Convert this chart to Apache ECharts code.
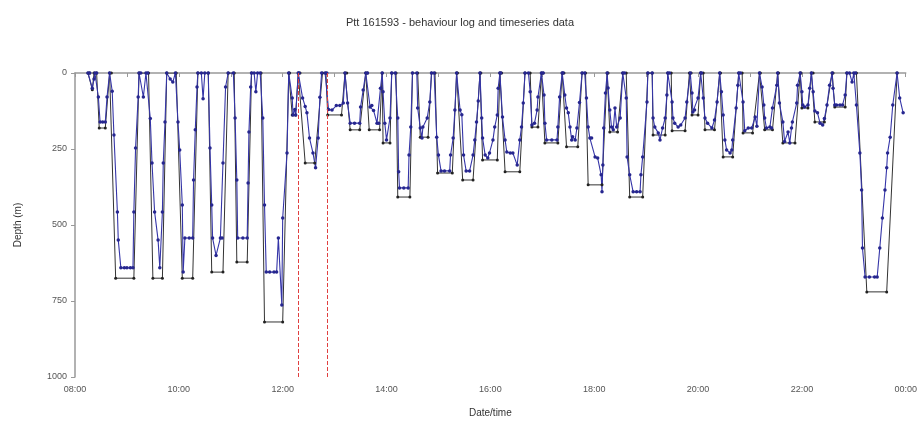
<!DOCTYPE html>
<html>
<head>
<meta charset="utf-8">
<script src="https://cdn.jsdelivr.net/npm/echarts@6/dist/echarts.min.js"></script>
<style>html,body{margin:0;padding:0;background:#fff}#c{width:920px;height:427px}</style>
</head>
<body>
<div id="c"></div>
<script>
// time values are minutes after 08:00, depths in metres
const titleText = 'Ptt 161593 - behaviour log and timeseries data';
const depthTicks = [0, 250, 500, 750, 1000];
const markerTimes = [258, 292];

const behaviourLog = [
  [15,0],[17,0],[20,55],[22,0],[25,0],[28,181],[35,181],[40,0],
  [42,0],[47,675],[68,675],[74,0],
  [85,0],[90,675],[101,675],[106,0],
  [117,0],[124,675],[136,675],[142,0],
  [154,0],[158,655],[171,655],[177,0],
  [184,0],[187,622],[199,622],[204,0],
  [215,0],[219,819],[240,819],[247,0],
  [248,0],[251,138],[255,138],[258,0],
  [260,0],[266,296],[277,296],[286,0],
  [290,0],[292,138],[308,138],[312,0],
  [314,0],[318,187],[329,187],[336,0],
  [338,0],[340,187],[352,187],[355,0],
  [356,230],[364,230],[366,0],
  [371,0],[373,408],[387,408],[390,0],
  [396,0],[399,211],[408,211],[412,0],
  [416,0],[419,329],[436,329],[441,0],
  [442,0],[448,352],[460,352],[468,0],
  [469,0],[471,286],[488,286],[491,0],
  [493,0],[497,325],[514,325],[520,0],
  [526,0],[528,178],[535,178],[539,0],
  [541,0],[543,230],[558,230],[563,0],
  [565,0],[568,243],[581,243],[586,0],
  [590,0],[593,368],[609,368],[615,0],
  [616,0],[618,194],[627,194],[633,0],
  [637,0],[641,408],[656,408],[662,0],
  [667,0],[668,204],[682,204],[685,0],
  [689,0],[690,190],[705,190],[710,0],
  [712,0],[713,138],[720,138],[723,0],
  [726,0],[728,187],[739,187],[745,0],
  [746,0],[749,276],[760,276],[767,0],
  [771,0],[772,197],[783,197],[791,0],
  [792,0],[797,187],[806,187],[812,0],
  [813,0],[818,230],[832,230],[838,0],
  [839,0],[840,115],[847,115],[851,0],
  [853,0],[855,161],[866,161],[875,0],
  [876,0],[878,112],[890,112],[892,0],
  [903,0],[915,720],[938,720],[950,0]
];

const timeseries = [
  [15,0],[17,0],[20,50],[22,20],[23,0],[25,0],[27,79],[29,161],[32,161],[35,161],[37,79],[40,0],
  [43,60],[45,204],[49,457],[50,549],[53,641],[57,641],[60,641],[64,641],[67,641],[68,457],[70,247],[73,79],[74,0],
  [76,0],[79,79],[82,0],[84,0],
  [87,150],[89,296],[92,457],[96,549],[98,641],[101,457],[102,296],[104,161],[106,0],
  [110,20],[113,30],[116,0],
  [119,161],[121,253],[124,434],[125,655],[127,543],[132,543],[136,543],[137,352],[139,187],[141,46],[142,0],
  [146,0],[148,85],[150,0],[154,0],
  [156,247],[158,434],[159,543],[163,600],[168,543],[170,543],[171,296],[174,46],[177,0],
  [183,0],[185,148],[187,352],[188,543],[194,543],[199,543],[200,362],[201,194],[203,46],[204,0],
  [207,0],[209,62],[211,0],[214,0],
  [217,148],[219,434],[221,655],[225,655],[230,655],[233,655],[235,543],[239,763],[240,477],[245,263],[247,0],
  [251,82],[252,138],[254,120],[255,138],[258,0],[259,0],
  [263,82],[266,110],[268,131],[271,214],[275,263],[278,312],[281,214],[283,80],[285,0],[289,0],[291,0],
  [293,120],[297,122],[302,107],[306,107],[310,99],[312,0],
  [315,99],[318,165],[323,165],[329,165],[330,112],[333,56],[336,0],[338,0],
  [341,112],[343,107],[345,123],[349,165],[351,165],[353,50],[355,0],
  [356,62],[358,165],[360,220],[364,148],[366,0],[370,0],
  [373,148],[374,325],[375,378],[380,378],[385,378],[386,270],[388,178],[390,0],[395,0],
  [396,115],[399,181],[401,214],[402,178],[407,148],[410,95],[412,0],[415,0],
  [418,211],[420,270],[423,322],[427,322],[433,322],[434,270],[437,214],[439,122],[441,0],
  [445,122],[447,137],[449,270],[452,322],[456,322],[460,270],[462,220],[464,161],[466,92],[468,0],
  [470,148],[471,214],[474,270],[477,280],[479,263],[483,220],[485,178],[488,138],[489,50],[491,0],[492,0],
  [494,145],[497,220],[499,260],[503,263],[506,263],[511,303],[514,220],[516,178],[518,99],[520,0],[524,0],
  [526,62],[528,171],[531,165],[534,122],[535,79],[539,0],[541,0],
  [542,72],[543,165],[545,220],[551,220],[557,220],[558,178],[560,79],[563,0],[564,0],
  [566,72],[568,115],[570,131],[572,178],[574,220],[575,210],[578,220],[580,181],[583,97],[586,0],[589,0],
  [591,82],[593,178],[595,214],[597,214],[601,276],[604,280],[608,335],[609,391],[610,303],[611,181],[613,66],[615,0],
  [616,49],[618,122],[620,178],[622,187],[624,115],[626,178],[630,148],[633,0],[635,0],
  [637,82],[638,276],[641,335],[645,391],[649,391],[653,391],[654,335],[656,276],[661,95],[662,0],[667,0],
  [668,148],[670,178],[674,197],[676,220],[679,181],[682,148],[684,72],[685,0],[687,0],
  [690,95],[691,148],[693,165],[697,178],[700,171],[705,148],[707,95],[711,0],
  [713,66],[714,128],[716,122],[720,82],[723,0],[724,0],
  [726,82],[728,148],[731,165],[736,181],[739,155],[742,95],[745,0],
  [747,62],[749,138],[751,220],[753,253],[757,263],[759,253],[760,220],[764,115],[766,40],[767,0],[769,0],
  [772,95],[774,190],[778,181],[782,181],[786,145],[788,175],[791,0],
  [794,46],[796,105],[797,148],[799,181],[803,178],[805,181],[806,115],[811,40],[812,0],
  [814,99],[818,161],[820,225],[824,194],[826,230],[828,181],[829,161],[834,99],[835,40],[838,0],
  [840,62],[841,105],[843,112],[847,105],[849,50],[851,0],
  [853,62],[855,125],[858,131],[861,165],[864,171],[866,150],[869,105],[872,40],[875,0],
  [876,50],[878,105],[880,105],[884,105],[887,105],[890,72],[892,0],[895,0],[898,30],[900,0],[902,0],
  [903,105],[907,263],[909,385],[910,576],[913,671],[918,671],[924,671],[927,671],[930,576],[933,477],[936,385],[938,312],[939,263],[942,211],[945,105],[950,0],[953,82],[957,131]
];

function timeLabel(m) {
  const h = (8 + Math.round(m / 60)) % 24;
  if (h % 2 !== 0) return '';
  return (h < 10 ? '0' : '') + h + ':00';
}

const chart = echarts.init(document.getElementById('c'), null, {renderer: 'canvas'});
chart.setOption({
  animation: false,
  backgroundColor: '#ffffff',
  title: {
    text: titleText, left: 'center', top: 12,
    textStyle: {fontFamily: 'Liberation Sans, Arial', fontSize: 11, fontWeight: 'normal', color: '#333'}
  },
  grid: {left: 75, right: 14, top: 73, bottom: 50},
  xAxis: {
    type: 'value', min: 0, max: 960, interval: 60,
    name: 'Date/time', nameLocation: 'middle', nameGap: 31,
    nameTextStyle: {fontFamily: 'Liberation Sans, Arial', fontSize: 10, color: '#333'},
    axisLine: {lineStyle: {color: '#999', width: 1.5}},
    axisTick: {show: true, length: 4, lineStyle: {color: '#999'}},
    axisLabel: {formatter: timeLabel, fontFamily: 'Liberation Sans, Arial', fontSize: 9, color: '#555', margin: 8},
    splitLine: {show: false}
  },
  yAxis: {
    type: 'value', inverse: true, min: depthTicks[0], max: depthTicks[depthTicks.length - 1], interval: 250,
    name: 'Depth (m)', nameLocation: 'middle', nameGap: 52, nameRotate: 90,
    nameTextStyle: {fontFamily: 'Liberation Sans, Arial', fontSize: 10, color: '#333'},
    axisLine: {show: true, lineStyle: {color: '#999', width: 1.5}},
    axisTick: {show: true, length: 4, lineStyle: {color: '#999'}},
    axisLabel: {formatter: v => String(v), fontFamily: 'Liberation Sans, Arial', fontSize: 9, color: '#555', margin: 8},
    splitLine: {show: false}
  },
  series: [
    {
      name: 'Behaviour log', type: 'line', data: behaviourLog,
      symbol: 'circle', symbolSize: 3, showAllSymbol: true,
      lineStyle: {color: '#333', width: 1},
      itemStyle: {color: '#222'}
    },
    {
      name: 'Timeseries', type: 'line', data: timeseries,
      symbol: 'circle', symbolSize: 3.5, showAllSymbol: true,
      lineStyle: {color: '#3535a8', width: 1.1},
      itemStyle: {color: '#26268f'},
      markLine: {
        silent: true, symbol: 'none', label: {show: false},
        lineStyle: {color: '#e04040', type: 'dashed', width: 1},
        data: markerTimes.map(t => ({xAxis: t}))
      }
    }
  ]
});
</script>
</body>
</html>
